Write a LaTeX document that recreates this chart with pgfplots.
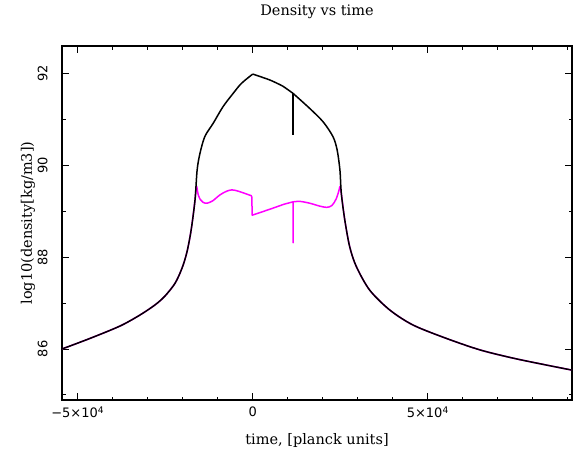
\documentclass[border=0pt]{standalone}
\usepackage{fontspec}
\setmainfont{DejaVu Serif}
\newfontfamily\tickfont{DejaVu Sans}
\usepackage{pgfplots}
\pgfplotsset{compat=1.18}
\definecolor{pgmag}{RGB}{255,0,255}

\begin{document}
\begin{tikzpicture}
\useasboundingbox (0,0) rectangle (579bp,458bp);
\begin{axis}[
    at={(62bp,58bp)}, anchor=south west,
    scale only axis, width=510bp, height=354bp,
    xmin=-54500, xmax=91200,
    ymin=84.89, ymax=92.59,
    axis line style={line width=1.1bp},
    tick style={black, line width=0.9bp},
    major tick length=7bp, minor tick length=3.5bp,
    xtick={-50000,0,50000},
    xticklabels={−5×10\textsuperscript{4}, 0, 5×10\textsuperscript{4}},
    minor xtick={-50000,-40000,...,90000},
    ytick={86,88,90,92},
    yticklabels={86,88,90,92},
    minor ytick={85,87,89,91},
    scaled x ticks=false,
    tick label style={font=\tickfont\fontsize{13bp}{15bp}\selectfont},
    xticklabel style={anchor=north, yshift=-3bp},
    yticklabel style={xshift=-11bp, rotate=90, anchor=south},
    title={Density vs time},
    xlabel={time, [planck units]},
    ylabel={log10(density[kg/m3])},
    every axis title/.style={at={(rel axis cs:0.5,1)}, yshift=34bp, anchor=center,
        font=\fontsize{14.5bp}{17bp}\selectfont},
    every axis x label/.style={at={(rel axis cs:0.5,0)}, yshift=-40bp, anchor=center,
        font=\fontsize{14.5bp}{17bp}\selectfont},
    every axis y label/.style={at={(rel axis cs:0,0.5)}, xshift=-34bp, rotate=90, anchor=center,
        font=\fontsize{14.5bp}{17bp}\selectfont},
    every axis plot/.append style={line width=1.5bp, line join=round},
]
% magenta series (drawn first, mostly hidden under the black one)
\addplot[pgmag, smooth, tension=0.5] coordinates {
(-54500,86.00) (-46500,86.23) (-37900,86.50) (-32200,86.74) (-27900,86.96)
(-25100,87.15) (-22200,87.43) (-20200,87.76) (-18800,88.11) (-17600,88.59)
(-16500,89.24) (-16100,89.54)
(-15600,89.36) (-15000,89.25) (-14200,89.19) (-13100,89.17)
(-11500,89.22) (-9400,89.35) (-7500,89.43)
(-6000,89.46) (-4500,89.44) (-2500,89.39) (-300,89.33)
};
\addplot[pgmag] coordinates {
(-300,89.33) (-150,88.91) (4900,89.04) (9000,89.15) (11500,89.20)
(11500,88.31) (11500,89.20)
};
\addplot[pgmag, smooth, tension=0.5] coordinates {
(11500,89.20) (13500,89.21) (16300,89.17) (19000,89.11) (21100,89.08) (22600,89.12)
(23800,89.26) (24600,89.44) (24950,89.54)
(25300,89.38) (26300,88.80) (27700,88.22) (29600,87.79)
(33400,87.28) (39100,86.85) (45800,86.52) (55300,86.23) (64900,85.98)
(74400,85.80) (83900,85.65) (91200,85.54)
};
% black series
\addplot[black, smooth, tension=0.5] coordinates {
(-54500,86.00) (-46500,86.23) (-37900,86.50) (-32200,86.74) (-27900,86.96)
(-25100,87.15) (-22200,87.43) (-20200,87.76) (-18800,88.11) (-17600,88.59)
(-16500,89.24) (-15900,89.89) (-15100,90.25) (-13700,90.62)
(-11300,90.91) (-8500,91.27) (-5600,91.56) (-3200,91.78) (0,91.98)
};
\addplot[black, smooth, tension=0.3] coordinates {
(0,91.98) (4900,91.85) (8500,91.72) (11500,91.56)
};
\addplot[black] coordinates {
(11500,91.56) (11500,90.65)
};
\addplot[black, smooth, tension=0.5] coordinates {
(11500,91.56) (16300,91.23) (20100,90.94) (22900,90.62) (24100,90.33) (24900,89.89)
(25300,89.38) (26300,88.80) (27700,88.22) (29600,87.79)
(33400,87.28) (39100,86.85) (45800,86.52) (55300,86.23) (64900,85.98)
(74400,85.80) (83900,85.65) (91200,85.54)
};
\end{axis}
\end{tikzpicture}
\end{document}
